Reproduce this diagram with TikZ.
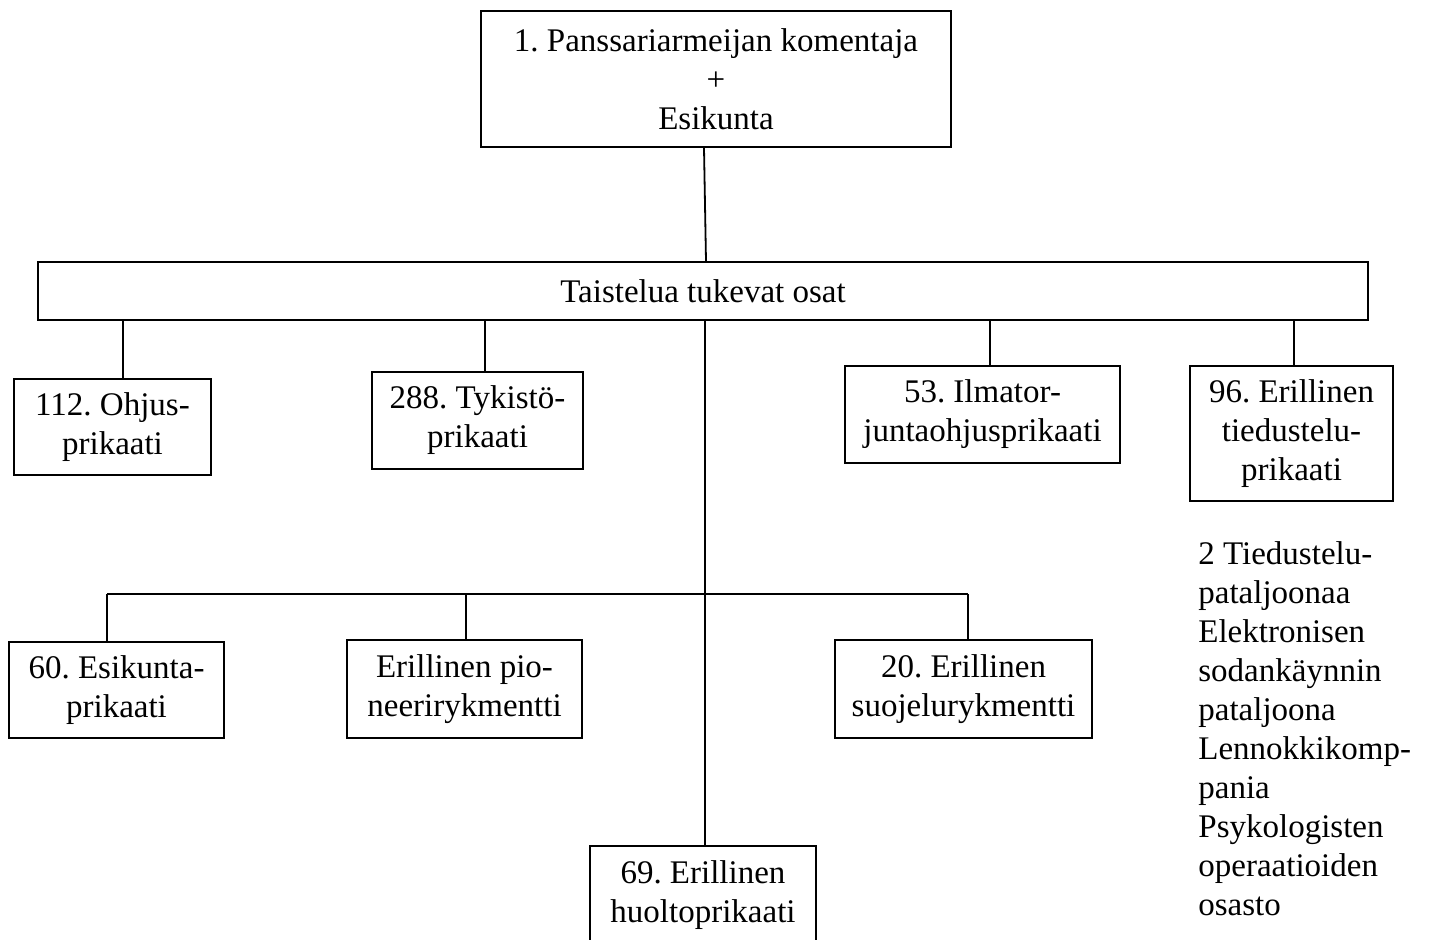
\documentclass[tikz,border=0pt]{standalone}
\usepackage{fontspec}
\setmainfont{Liberation Serif}
\usepackage{tikz}
\usetikzlibrary{positioning,calc}
\frenchspacing

\begin{document}
\begin{tikzpicture}[x=0.5pt, y=-0.5pt,
    unit/.style={draw, line width=0.9pt, align=center, inner xsep=2pt, inner ysep=0pt,
      font=\fontsize{16.5}{19.5}\selectfont},
    link/.style={line width=0.9pt}]
  \useasboundingbox (0,0) rectangle (1431,939);

  % Command and support bar
  \node[unit, minimum width=235pt, minimum height=68pt] (cmd) at (716,79)
    {1. Panssariarmeijan komentaja\\+\\Esikunta};
  \node[unit, minimum width=665pt, minimum height=29pt] (bar) at (703,291)
    {Taistelua tukevat osat};
  \coordinate (hub) at (705,0);
  \draw[link] (cmd.south -| 704,0) -- (bar.north -| 706,0);

  % First row of brigades
  \node[unit, minimum width=98.5pt, minimum height=48pt] (ohjus) at (112.5,427)
    {112. Ohjus-\\prikaati};
  \node[unit, minimum width=105.5pt, minimum height=48.5pt] (tykisto) at (477.5,420.5)
    {288. Tykistö-\\prikaati};
  \node[unit, minimum width=137.5pt, minimum height=48.5pt] (ilmator) at (982.5,414.5)
    {53. Ilmator-\\juntaohjusprikaati};
  \node[unit, minimum width=101.5pt, minimum height=67.5pt] (tiedu) at (1291.5,433.5)
    {96. Erillinen\\tiedustelu-\\prikaati};

  \draw[link] (bar.south -| 123,0) -- (ohjus.north -| 123,0);
  \draw[link] (bar.south -| 485,0) -- (tykisto.north -| 485,0);
  \draw[link] (bar.south -| 990,0) -- (ilmator.north -| 990,0);
  \draw[link] (bar.south -| 1294,0) -- (tiedu.north -| 1294,0);

  % Subunits of the reconnaissance brigade
  \node[anchor=north west, align=left, inner sep=0pt,
    font=\fontsize{16.5}{19.5}\selectfont] (tiedulist) at (1198,541)
    {2 Tiedustelu-\\pataljoonaa\\Elektronisen\\sodankäynnin\\pataljoona\\Lennokkikomp-\\pania\\Psykologisten\\operaatioiden\\osasto};

  % Second row
  \node[unit, minimum width=107.5pt, minimum height=48pt] (esik) at (116.5,690)
    {60. Esikunta-\\prikaati};
  \node[unit, minimum width=117.5pt, minimum height=49pt] (pion) at (464.5,689)
    {Erillinen pio-\\neerirykmentti};
  \node[unit, minimum width=128.5pt, minimum height=49pt] (suoj) at (963.5,689)
    {20. Erillinen\\suojelurykmentti};
  \node[unit, minimum width=113pt, minimum height=49pt] (huolto) at (703,895)
    {69. Erillinen\\huoltoprikaati};

  \coordinate (jl) at (107,594);
  \coordinate (jr) at (968,594);
  \draw[link] (bar.south -| hub) -- (huolto.north -| hub);
  \draw[link] (jl) -- (jr);
  \draw[link] (jl) -- (jl |- esik.north);
  \draw[link] (jl -| 466,0) -- (pion.north -| 466,0);
  \draw[link] (jr) -- (jr |- suoj.north);
\end{tikzpicture}
\end{document}
